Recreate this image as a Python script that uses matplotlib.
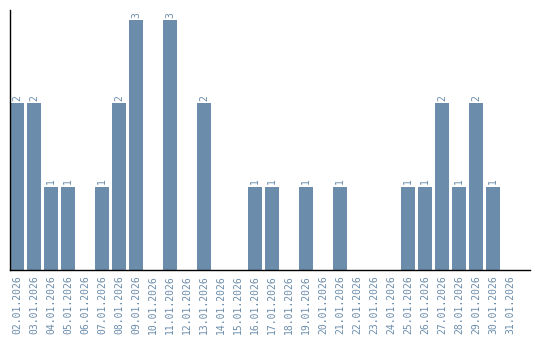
import numpy as np
import matplotlib.pyplot as plt

dates = ["%02d.01.2026" % d for d in range(2, 32)]
counts = [2, 2, 1, 1, 0, 1, 2, 3, 0, 3, 0, 2, 0, 0, 1, 1, 0, 1, 0, 1,
          0, 0, 0, 1, 1, 2, 1, 2, 1, 0]

bar_color = "#6b8cab"
slot = 17.0
bw = 14 / slot

fig = plt.figure(figsize=(5.4, 3.4), dpi=100)
ax = fig.add_axes([10 / 540, 70 / 340, 520 / 540, 260 / 340])

x = np.arange(len(dates))
ax.bar(x, counts, width=bw, align="edge", color=bar_color)

for xi, c in zip(x, counts):
    if c > 0:
        ax.text(xi + bw / 2, c + 0.03, str(c), rotation=90, ha="center", va="bottom",
                fontsize=7, family="DejaVu Sans Mono", color=bar_color)

ax.set_xlim(0, 520 / slot)
ax.set_ylim(0, 3 * 260 / 250)
ax.set_xticks(x + bw / 2)
ax.set_xticklabels(dates, rotation=90, fontsize=7, family="DejaVu Sans Mono", color=bar_color)
ax.set_yticks([])
ax.tick_params(axis="x", length=0, pad=4)
for s in ["top", "right"]:
    ax.spines[s].set_visible(False)
ax.spines["left"].set_linewidth(1)
ax.spines["bottom"].set_linewidth(1)

fig.savefig("out.png", dpi=100)
